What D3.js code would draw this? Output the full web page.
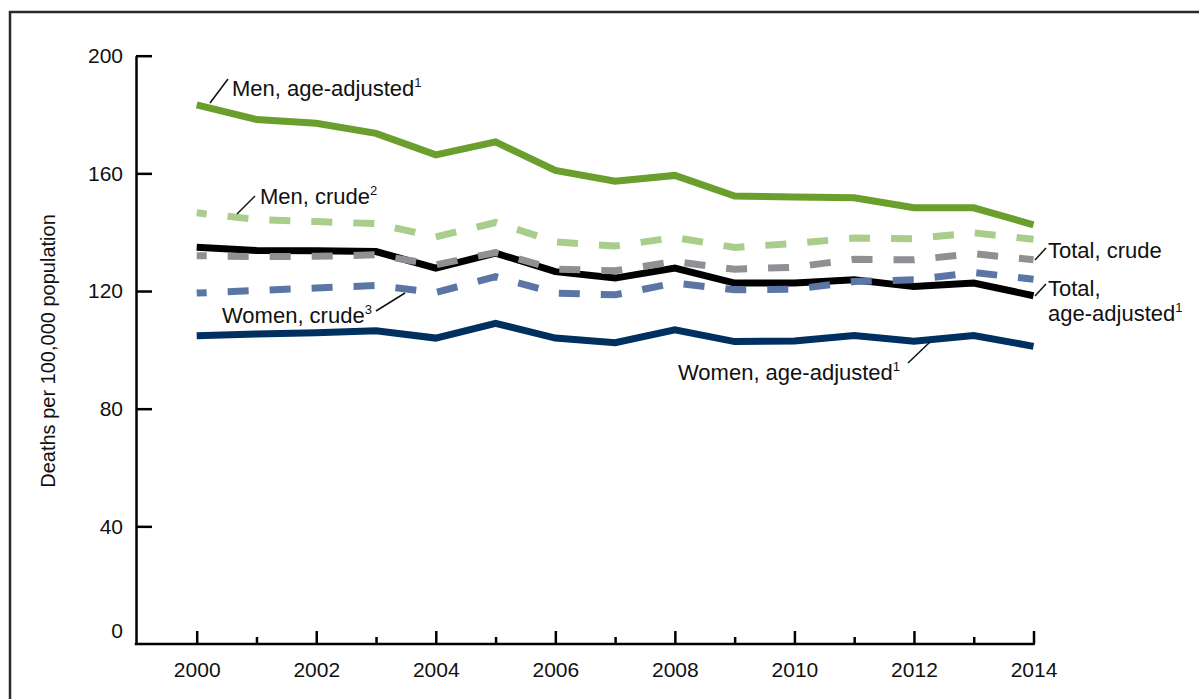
<!DOCTYPE html>
<html>
<head>
<meta charset="utf-8">
<script src="https://cdn.jsdelivr.net/npm/d3@7"></script>
<style>
  html, body { margin: 0; padding: 0; background: #fff; }
  svg { display: block; font-family: "Liberation Sans", Arial, sans-serif; }
</style>
</head>
<body>
<svg id="chart" width="1199" height="699"></svg>
<script>
// ---- Data ----
const years = [2000, 2001, 2002, 2003, 2004, 2005, 2006, 2007, 2008, 2009, 2010, 2011, 2012, 2013, 2014];
const menAdjusted   = [183.3, 178.3, 177.0, 173.6, 166.3, 170.7, 161.0, 157.3, 159.3, 152.3, 152.0, 151.7, 148.3, 148.3, 142.5];
const menCrude      = [146.6, 144.3, 143.6, 142.9, 138.4, 143.3, 136.7, 135.3, 138.2, 134.8, 136.2, 138.0, 137.8, 139.8, 137.6];
const totalCrude    = [132.0, 131.7, 131.8, 132.3, 128.9, 133.1, 127.4, 126.9, 130.0, 127.4, 128.1, 130.8, 130.6, 132.7, 130.6];
const totalAdjusted = [134.9, 133.8, 133.7, 133.4, 127.8, 132.9, 126.6, 124.4, 127.8, 122.7, 122.7, 123.8, 121.5, 122.7, 118.4];
const womenCrude    = [119.3, 120.2, 121.0, 121.9, 119.5, 124.9, 119.3, 118.7, 122.7, 120.4, 120.6, 123.2, 123.8, 126.3, 124.0];
const womenAdjusted = [104.8, 105.4, 105.8, 106.5, 104.0, 109.0, 104.0, 102.4, 106.8, 102.8, 103.0, 104.9, 102.9, 104.9, 101.2];
const yTicks = [0, 40, 80, 120, 160, 200];
const xLabelYears = [2000, 2002, 2004, 2006, 2008, 2010, 2012, 2014];
const yTitle = "Deaths per 100,000 population";

const svg = d3.select("#chart");

// frame
svg.append("rect").attr("x", 10).attr("y", 12).attr("width", 1300).attr("height", 800)
  .attr("fill", "none").attr("stroke", "#2b2b2b").attr("stroke-width", 2.5);

const x = d3.scaleLinear().domain([2000, 2014]).range([196.7, 1033.5]);
const y = d3.scaleLinear().domain([0, 200]).range([644, 55.7]);
const axisX0 = 136;

// y axis
const yAxis = svg.append("g").attr("transform", `translate(${axisX0},0)`)
  .call(d3.axisLeft(y).tickValues(yTicks).tickSizeInner(-16).tickSizeOuter(0).tickPadding(13));
yAxis.select(".domain").attr("stroke", "#000").attr("stroke-width", 2.5);
yAxis.selectAll(".tick line").attr("stroke", "#000").attr("stroke-width", 2.5);
yAxis.selectAll(".tick text").attr("font-size", 21).attr("fill", "#111")
  .attr("font-family", "'Liberation Sans', Arial, sans-serif")
  .attr("dy", d => d === 0 ? "-0.3em" : "0.32em");
yAxis.selectAll(".tick").filter(d => d === 0).select("line").remove();

// x axis
const xAxis = svg.append("g").attr("transform", `translate(0,${y(0)})`)
  .call(d3.axisBottom(x).tickValues(years).tickSizeInner(-13).tickSizeOuter(0).tickPadding(18.5)
    .tickFormat(d => xLabelYears.includes(d) ? String(d) : ""));
xAxis.select(".domain").remove();
xAxis.selectAll(".tick line").attr("stroke", "#000").attr("stroke-width", 2.5)
  .attr("y2", d => xLabelYears.includes(d) ? -13 : -7);
xAxis.selectAll(".tick text").attr("font-size", 21).attr("fill", "#111")
  .attr("font-family", "'Liberation Sans', Arial, sans-serif");
xAxis.append("line").attr("x1", axisX0 - 1.25).attr("x2", x(2014) + 1.25)
  .attr("y1", 0).attr("y2", 0).attr("stroke", "#000").attr("stroke-width", 2.5);

// y title
svg.append("text").attr("transform", `translate(55,351) rotate(-90)`)
  .attr("text-anchor", "middle").attr("font-size", 20).attr("fill", "#111").text(yTitle);

// lines
const line = vals => d3.line().x((d, i) => x(years[i])).y(d => y(d))(vals);
const solids = [
  { v: womenAdjusted, c: "#00305f" },
  { v: totalAdjusted, c: "#000000" },
  { v: menAdjusted,   c: "#6a9f2e" }
];
const dashed = [
  { v: menCrude,   c: "#a9cd8b" },
  { v: totalCrude, c: "#8e9094" },
  { v: womenCrude, c: "#5b76a5" }
];
solids.forEach(s => svg.append("path").attr("d", line(s.v)).attr("fill", "none")
  .attr("stroke", s.c).attr("stroke-width", 7).attr("stroke-linejoin", "miter"));
dashed.forEach(s => svg.append("path").attr("d", line(s.v)).attr("fill", "none")
  .attr("stroke", s.c).attr("stroke-width", 7).attr("stroke-dasharray", "21,21")
  .attr("stroke-dashoffset", 11));

// labels
function label(xp, yp, parts) {
  const t = svg.append("text").attr("x", xp).attr("y", yp).attr("font-size", 22).attr("fill", "#111");
  parts.forEach(p => {
    if (p.sup) t.append("tspan").attr("font-size", 13).attr("dy", -9).text(p.sup);
    else t.append("tspan").text(p.t);
  });
}
function leader(x1, y1, x2, y2) {
  svg.append("line").attr("x1", x1).attr("y1", y1).attr("x2", x2).attr("y2", y2)
    .attr("stroke", "#111").attr("stroke-width", 1.5);
}
label(232, 96, [{ t: "Men, age-adjusted" }, { sup: "1" }]);
leader(210, 103, 228, 79);
label(260, 204, [{ t: "Men, crude" }, { sup: "2" }]);
leader(237, 214, 255, 196);
label(222, 323, [{ t: "Women, crude" }, { sup: "3" }]);
leader(376, 311, 405, 293);
label(678, 380, [{ t: "Women, age-adjusted" }, { sup: "1" }]);
leader(908, 363, 930, 342);
label(1048, 258, [{ t: "Total, crude" }]);
leader(1035, 260, 1046, 248);
label(1048, 296, [{ t: "Total," }]);
label(1048, 321, [{ t: "age-adjusted" }, { sup: "1" }]);
leader(1035, 296, 1046, 284);
</script>
</body>
</html>
